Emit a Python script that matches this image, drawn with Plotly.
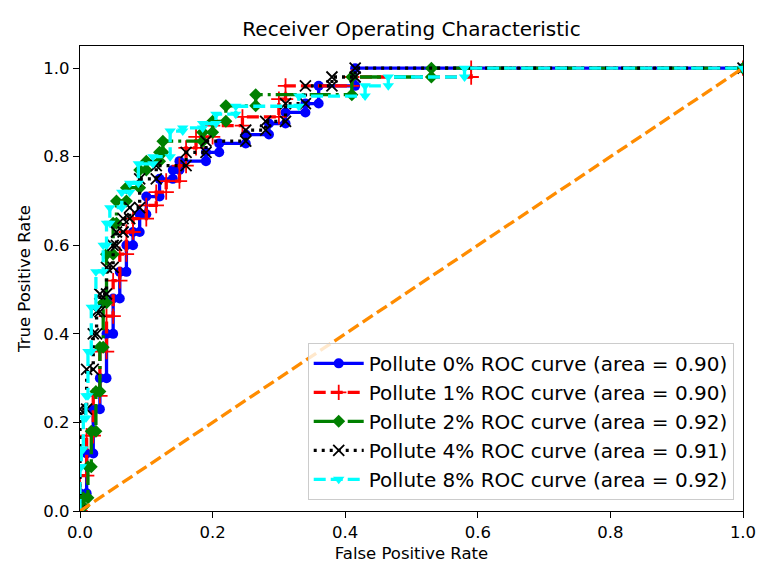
import plotly.graph_objects as go

# ---- data (ROC curve corner points) ----
names = [
    "Pollute 0% ROC curve (area = 0.90)",
    "Pollute 1% ROC curve (area = 0.90)",
    "Pollute 2% ROC curve (area = 0.92)",
    "Pollute 4% ROC curve (area = 0.91)",
    "Pollute 8% ROC curve (area = 0.92)",
]

fpr_0 = [0, 0, 0.01, 0.01, 0.02, 0.02, 0.03, 0.03, 0.04, 0.04, 0.05, 0.05, 0.06, 0.06,
         0.07, 0.07, 0.08, 0.08, 0.09, 0.09, 0.10, 0.10, 0.12, 0.12, 0.14, 0.14, 0.15, 0.15,
         0.19, 0.19, 0.21, 0.21, 0.25, 0.25, 0.285, 0.285, 0.31, 0.31, 0.34, 0.34, 0.36, 0.36,
         0.415, 0.415, 1.0]
tpr_0 = [0, 0.04, 0.04, 0.13, 0.13, 0.23, 0.23, 0.30, 0.30, 0.40, 0.40, 0.48, 0.48, 0.54,
         0.54, 0.60, 0.60, 0.63, 0.63, 0.67, 0.67, 0.71, 0.71, 0.75, 0.75, 0.77, 0.77, 0.79,
         0.79, 0.81, 0.81, 0.83, 0.83, 0.85, 0.85, 0.875, 0.875, 0.90, 0.90, 0.92, 0.92, 0.96,
         0.96, 1.0, 1.0]

fpr_1 = [0, 0, 0.01, 0.01, 0.02, 0.02, 0.03, 0.03, 0.04, 0.04, 0.05, 0.05, 0.06, 0.06,
         0.07, 0.07, 0.08, 0.08, 0.10, 0.10, 0.115, 0.115, 0.13, 0.13, 0.15, 0.15, 0.16, 0.16,
         0.175, 0.175, 0.20, 0.20, 0.245, 0.245, 0.30, 0.30, 0.31, 0.31, 0.41, 0.41, 0.59, 0.59,
         1.0]
tpr_1 = [0, 0.08, 0.08, 0.17, 0.17, 0.26, 0.26, 0.36, 0.36, 0.44, 0.44, 0.52, 0.52, 0.58,
         0.58, 0.63, 0.63, 0.66, 0.66, 0.69, 0.69, 0.72, 0.72, 0.745, 0.745, 0.78, 0.78, 0.82,
         0.82, 0.845, 0.845, 0.87, 0.87, 0.89, 0.89, 0.93, 0.93, 0.96, 0.96, 0.98, 0.98, 1.0,
         1.0]

fpr_2 = [0, 0, 0.005, 0.005, 0.012, 0.012, 0.017, 0.017, 0.024, 0.024, 0.03, 0.03, 0.035, 0.035,
         0.04, 0.04, 0.05, 0.05, 0.055, 0.055, 0.07, 0.07, 0.09, 0.09, 0.10, 0.10, 0.12, 0.12,
         0.125, 0.125, 0.185, 0.185, 0.20, 0.20, 0.22, 0.22, 0.265, 0.265, 0.41, 0.41, 0.53, 0.53,
         1.0]
tpr_2 = [0, 0.01, 0.01, 0.03, 0.03, 0.10, 0.10, 0.18, 0.18, 0.27, 0.27, 0.37, 0.37, 0.47,
         0.47, 0.58, 0.58, 0.65, 0.65, 0.70, 0.70, 0.73, 0.73, 0.77, 0.77, 0.79, 0.79, 0.81,
         0.81, 0.835, 0.835, 0.855, 0.855, 0.88, 0.88, 0.915, 0.915, 0.94, 0.94, 0.98, 0.98, 1.0,
         1.0]

fpr_4 = [0, 0, 0.01, 0.01, 0.02, 0.02, 0.025, 0.025, 0.03, 0.03, 0.04, 0.04, 0.05, 0.05,
         0.055, 0.055, 0.065, 0.065, 0.075, 0.075, 0.09, 0.09, 0.115, 0.115, 0.16, 0.16, 0.19, 0.19,
         0.25, 0.25, 0.28, 0.28, 0.31, 0.31, 0.34, 0.34, 0.38, 0.38, 0.415, 0.415, 1.0]
tpr_4 = [0, 0.23, 0.23, 0.32, 0.32, 0.40, 0.40, 0.45, 0.45, 0.49, 0.49, 0.55, 0.55, 0.60,
         0.60, 0.63, 0.63, 0.66, 0.66, 0.685, 0.685, 0.75, 0.75, 0.78, 0.78, 0.81, 0.81, 0.835,
         0.835, 0.86, 0.86, 0.88, 0.88, 0.92, 0.92, 0.96, 0.96, 0.98, 0.98, 1.0, 1.0]

fpr_8 = [0, 0, 0.002, 0.002, 0.005, 0.005, 0.009, 0.009, 0.012, 0.012, 0.017, 0.017, 0.024, 0.024,
         0.035, 0.035, 0.04, 0.04, 0.045, 0.045, 0.063, 0.063, 0.075, 0.075, 0.088, 0.088,
         0.11, 0.11, 0.136, 0.136, 0.155, 0.155, 0.185, 0.185, 0.205, 0.205, 0.235, 0.235,
         0.33, 0.33, 0.43, 0.43, 0.465, 0.465, 0.58, 0.58, 1.0]
tpr_8 = [0, 0.10, 0.10, 0.14, 0.14, 0.21, 0.21, 0.26, 0.26, 0.36, 0.36, 0.46, 0.46, 0.54,
         0.54, 0.60, 0.60, 0.65, 0.65, 0.685, 0.685, 0.72, 0.72, 0.74, 0.74, 0.784, 0.784,
         0.80, 0.80, 0.858, 0.858, 0.865, 0.865, 0.875, 0.875, 0.896, 0.896, 0.914, 0.914,
         0.937, 0.937, 0.96, 0.96, 0.98, 0.98, 1.0, 1.0]

chance_x = [0, 1]
chance_y = [0, 1]

x_ticks = [0.0, 0.2, 0.4, 0.6, 0.8, 1.0]
y_ticks = [0.0, 0.2, 0.4, 0.6, 0.8, 1.0]

# ---- styling ----
LW = 3.3
FONT = "DejaVu Sans"
W, H = 767, 574  # page body has an 8px margin in the browser
series = [
    (fpr_0, tpr_0, "blue", "solid", "circle", None),
    (fpr_1, tpr_1, "red", "12px,5px", "cross-thin", 1.8),
    (fpr_2, tpr_2, "green", "21px,5px,3px,5px", "diamond", None),
    (fpr_4, tpr_4, "black", "3px,5px", "x-thin", 1.8),
    (fpr_8, tpr_8, "cyan", "12px,5px", "triangle-down", None),
]

fig = go.Figure()
for (fx, ty, col, dash, sym, mlw), name in zip(series, names):
    marker = dict(symbol=sym, size=10, color=col)
    if mlw:
        marker["line"] = dict(color=col, width=mlw)
        marker["size"] = 11
    else:
        marker["line"] = dict(color=col, width=0)
    fig.add_trace(go.Scatter(
        x=fx, y=ty, mode="lines+markers", name=name,
        line=dict(color=col, width=LW, dash=dash),
        marker=marker,
    ))

fig.add_trace(go.Scatter(
    x=chance_x, y=chance_y, mode="lines", showlegend=False,
    line=dict(color="darkorange", width=LW, dash="12px,5px"),
))

axis_common = dict(
    showgrid=False, zeroline=False, showline=True, linecolor="black", linewidth=1.3,
    mirror=True, ticks="outside", ticklen=6, tickwidth=1.3, tickcolor="black",
    tickfont=dict(family=FONT, size=16.5, color="black"),
)

fig.update_layout(
    width=W, height=H,
    margin=dict(l=72, r=32, t=38, b=71),
    paper_bgcolor="white", plot_bgcolor="white",
    font=dict(family=FONT, color="black"),
    title=dict(text="Receiver Operating Characteristic", x=0.5, xref="paper",
               xanchor="center", y=(H - 28) / H, yref="container", yanchor="bottom",
               font=dict(family=FONT, size=20, color="black")),
    xaxis=dict(range=[0, 1], tickvals=x_ticks, ticktext=[f"{v:.1f}" for v in x_ticks],
               title=dict(text="False Positive Rate", font=dict(family=FONT, size=16.5),
                          standoff=6),
               **axis_common),
    yaxis=dict(range=[0, 1.05], tickvals=y_ticks, ticktext=[f"{v:.1f}" for v in y_ticks],
               title=dict(text="True Positive Rate", font=dict(family=FONT, size=16.5),
                          standoff=8),
               **axis_common),
    legend=dict(x=0.986, y=0.024, xanchor="right", yanchor="bottom",
                bgcolor="rgba(255,255,255,0.8)", bordercolor="#cccccc", borderwidth=1,
                font=dict(family=FONT, size=20, color="black"), itemwidth=50,
                tracegroupgap=0),
    showlegend=True,
)

fig.write_html("out.html")
